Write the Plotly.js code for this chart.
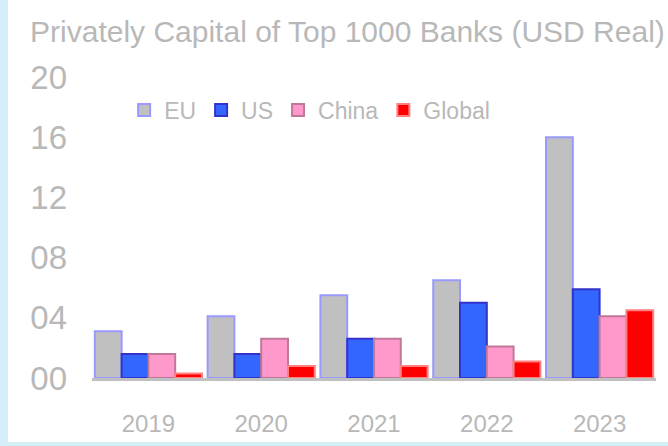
<!DOCTYPE html>
<html>
<head>
<meta charset="utf-8">
<script src="https://cdn.plot.ly/plotly-3.0.1.min.js"></script>
<style>html,body{margin:0;padding:0;background:#fff;}#chart{width:668px;height:446px;}</style>
</head>
<body>
<div id="chart"></div>
<script>
var categories = ["2019", "2020", "2021", "2022", "2023"];
var seriesNames = ["EU", "US", "China", "Global"];
var euValues = [3.1, 4.1, 5.5, 6.5, 16.0];
var usValues = [1.6, 1.6, 2.6, 5.0, 5.9];
var chinaValues = [1.6, 2.6, 2.6, 2.1, 4.1];
var globalValues = [0.3, 0.8, 0.8, 1.1, 4.5];
var yTickValues = [0, 4, 8, 12, 16, 20];

var fills = ["#c0c0c0", "#3366ff", "#ff99cc", "#ff0000"];
var lines = ["#9999ff", "#3333cc", "#c07898", "#ff8080"];
var allValues = [euValues, usValues, chinaValues, globalValues];

var data = allValues.map(function (vals, i) {
  return {
    type: "bar",
    name: seriesNames[i],
    x: categories,
    y: vals,
    marker: { color: fills[i], line: { color: lines[i], width: 2 } }
  };
});

var textColor = "#b8b8b8";
var fam = "Liberation Sans, Arial, sans-serif";
var layout = {
  width: 668,
  height: 446,
  paper_bgcolor: "#ffffff",
  plot_bgcolor: "#ffffff",
  font: { family: fam, color: textColor, size: 18 },
  title: {
    text: "Privately Capital of Top 1000 Banks (USD Real)",
    font: { size: 30, color: textColor, family: fam },
    x: 0.045, xanchor: "left", xref: "container",
    y: 0.93, yanchor: "middle", yref: "container"
  },
  margin: { l: 92, r: 12, t: 77, b: 68 },
  barmode: "group",
  bargap: 0.05,
  bargroupgap: 0,
  showlegend: true,
  legend: {
    orientation: "h",
    x: 0.057, xanchor: "left",
    y: 0.89, yanchor: "middle",
    bgcolor: "rgba(0,0,0,0)",
    font: { size: 23, color: textColor, family: fam }
  },
  xaxis: {
    type: "category",
    showgrid: false,
    showline: true,
    linecolor: "#c0c0c0",
    linewidth: 3,
    ticks: "",
    ticklabelstandoff: 22,
    tickfont: { size: 24, color: textColor, family: fam }
  },
  yaxis: {
    range: [0, 20],
    tickvals: yTickValues,
    tickformat: "02d",
    showgrid: false,
    zeroline: false,
    showline: false,
    ticks: "",
    ticklabelstandoff: 24,
    tickfont: { size: 33, color: textColor, family: fam }
  },
  shapes: [
    { type: "rect", xref: "paper", yref: "paper", x0: -0.163, x1: -0.149, y0: -0.23, y1: 1.26,
      fillcolor: "#d2eef8", line: { width: 0 }, layer: "below" },
    { type: "rect", xref: "paper", yref: "paper", x0: -0.149, x1: 1.03, y0: -0.23, y1: -0.213,
      fillcolor: "#d6f0f8", line: { width: 0 }, layer: "below" }
  ]
};

Plotly.newPlot("chart", data, layout, { displayModeBar: false, staticPlot: true });
</script>
</body>
</html>
